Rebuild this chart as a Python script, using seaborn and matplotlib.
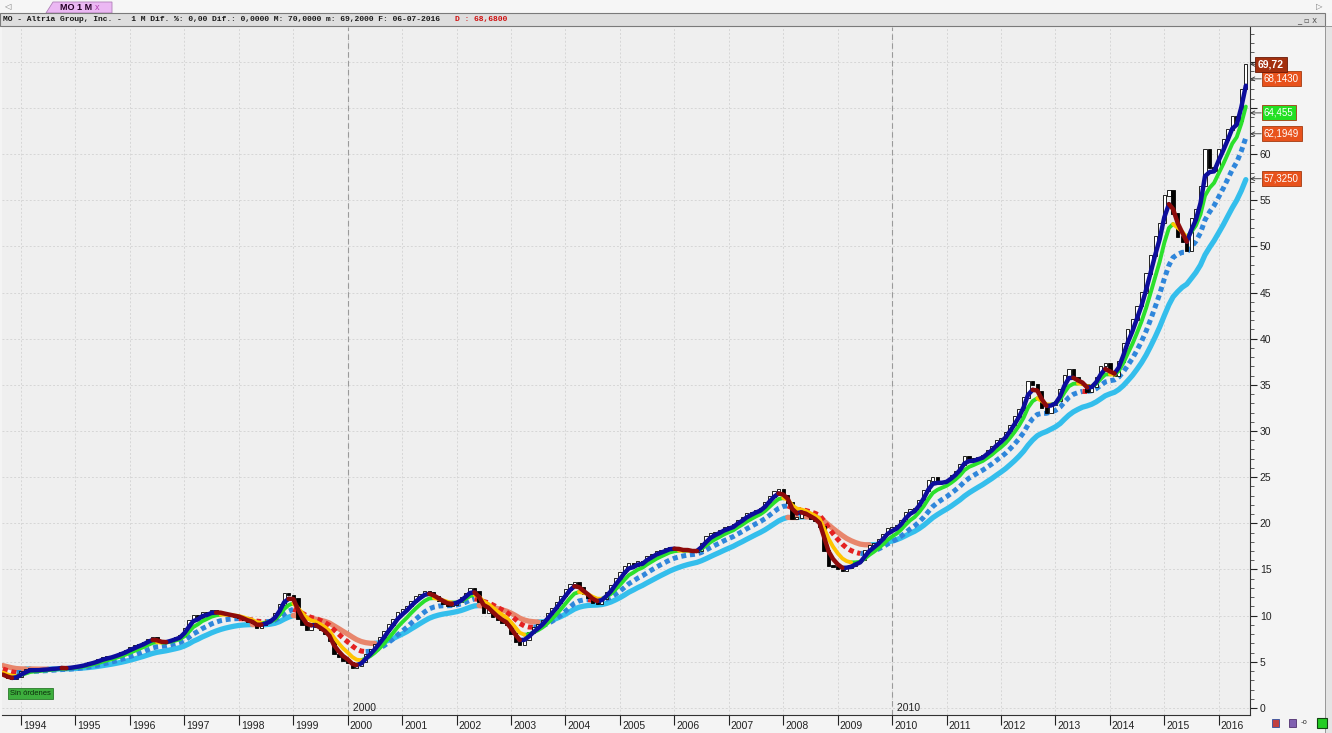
import numpy as np
import pandas as pd
import matplotlib
matplotlib.use("Agg")
import matplotlib.pyplot as plt
import matplotlib.transforms as mtransforms
from matplotlib.patches import Rectangle, Polygon
from matplotlib.ticker import MultipleLocator, FixedFormatter
import seaborn as sns

W, H = 1332, 733

# ==============================================================================
# DATOS: cierres mensuales MO (ajustados)
# 1992-1993 solo sirven para "calentar" las medias moviles
# ==============================================================================
close_1992 = [5.4, 5.5, 5.3, 5.2, 5.1, 5.0, 5.2, 5.3, 5.1, 5.2, 5.4, 5.5]
close_1993 = [5.4, 5.3, 5.0, 3.8, 3.7, 3.6, 3.5, 3.6, 3.6, 3.2, 3.1, 3.4]
close_1994 = [3.9, 4.1, 4.3, 4.1, 4.1, 4.2, 4.2, 4.3, 4.3, 4.4, 4.3, 4.4]
close_1995 = [4.5, 4.6, 4.7, 4.9, 5.0, 5.2, 5.4, 5.5, 5.6, 5.8, 6.0, 6.2]
close_1996 = [6.5, 6.7, 6.9, 7.1, 7.4, 7.6, 7.3, 7.0, 7.1, 7.4, 7.6, 7.8]
close_1997 = [8.6, 9.5, 10.0, 9.8, 10.3, 10.2, 10.5, 10.4, 10.3, 10.1, 10.0, 9.9]
close_1998 = [9.8, 9.5, 9.3, 9.2, 8.7, 9.0, 9.3, 9.6, 10.2, 11.2, 12.4, 12.2]
close_1999 = [11.8, 9.6, 9.0, 8.4, 8.8, 9.0, 8.4, 8.0, 7.3, 5.8, 5.5, 5.1]
close_2000 = [4.9, 4.3, 4.5, 5.0, 5.8, 6.3, 6.9, 7.6, 8.3, 9.0, 9.6, 10.3]
close_2001 = [10.6, 11.0, 11.5, 12.0, 12.3, 12.6, 12.5, 12.0, 11.6, 11.3, 11.1, 11.2]
close_2002 = [11.5, 11.9, 12.4, 12.9, 12.6, 11.5, 10.3, 10.6, 9.9, 9.5, 9.2, 9.0]
close_2003 = [8.0, 7.2, 6.8, 7.4, 8.1, 8.7, 9.0, 9.5, 10.2, 10.8, 11.4, 12.1]
close_2004 = [12.8, 13.4, 13.6, 13.0, 12.3, 11.9, 11.4, 11.3, 11.8, 12.5, 13.2, 14.0]
close_2005 = [14.6, 15.3, 15.6, 15.4, 15.8, 15.7, 16.4, 16.6, 16.9, 17.0, 17.2, 17.4]
close_2006 = [17.3, 17.2, 17.0, 17.1, 16.9, 17.0, 17.8, 18.5, 18.9, 19.0, 19.2, 19.5]
close_2007 = [19.6, 19.8, 20.3, 20.6, 21.0, 21.2, 21.4, 21.6, 22.2, 22.9, 23.4, 23.6]
close_2008 = [23.0, 22.2, 20.5, 20.6, 21.3, 20.9, 20.5, 20.2, 19.6, 17.0, 15.4, 15.3]
close_2009 = [15.0, 14.8, 15.2, 15.4, 15.8, 16.0, 17.0, 17.6, 17.8, 18.2, 18.8, 19.4]
close_2010 = [19.5, 19.7, 20.3, 21.2, 21.5, 21.6, 22.5, 23.5, 24.6, 24.9, 24.5, 24.4]
close_2011 = [24.6, 25.2, 25.6, 26.3, 27.2, 27.0, 26.8, 27.1, 27.3, 27.9, 28.3, 28.9]
close_2012 = [29.2, 29.8, 30.6, 31.5, 32.3, 33.6, 35.3, 35.0, 34.3, 32.5, 32.0, 32.8]
close_2013 = [33.2, 34.5, 36.0, 36.6, 35.8, 35.2, 35.0, 34.2, 34.8, 35.8, 37.0, 37.3]
close_2014 = [36.2, 36.0, 37.5, 39.5, 41.0, 42.0, 43.5, 45.0, 47.0, 49.0, 51.0, 52.5]
close_2015 = [55.5, 56.0, 53.5, 51.0, 50.5, 49.5, 53.0, 54.0, 56.5, 60.5, 58.5, 58.2]
close_2016 = [60.5, 61.5, 62.6, 64.0, 63.6, 67.0, 69.72]

years = list(range(1994, 2017))
year_labels = [str(y) for y in years]

# eje de precios: rotulos cada 5 (65 y 70 quedan tapados por las etiquetas)
price_ticks = list(range(0, 71, 5))
price_tick_labels = [str(v) if v <= 60 else "" for v in price_ticks]

# etiquetas de precio del eje derecho
box_values = [69.72, 68.143, 64.455, 62.1949, 57.325]
box_texts = ["69,72", "68,1430", "64,455", "62,1949", "57,3250"]

header_text = "MO - Altria Group, Inc. -  1 M Dif. %: 0,00 Dif.: 0,0000 M: 70,0000 m: 69,2000 F: 06-07-2016"
header_red = "D : 68,6800"

# medias moviles exponenciales (span en meses)
ma_spans = [22, 12, 6, 3]

# ==============================================================================
# ESTILOS
# ==============================================================================
ma_up_colors = ["#34BEEC", "#2F86DB", "#2BE02B", "#0D0D9C"]
ma_down_colors = ["#E8866C", "#E42222", "#FFC400", "#8E0B0B"]
ma_widths = [3.8, 3.6, 2.8, 3.2]
ma_dotted = [False, True, False, False]
ma_zorder = [2, 3, 5, 6]
box_colors = ["#A3300F", "#E8521C", "#22E022", "#E8521C", "#E8521C"]
BG = "#efefef"


def slope_segments(ma):
    # parte la serie en tramos segun la pendiente (sube / baja)
    rows = []
    vals = ma.values
    dates = ma.index
    run = 0
    prev_up = None
    for i in range(1, len(vals)):
        up = vals[i] >= vals[i - 1]
        if up != prev_up:
            run += 1
            rows.append((dates[i - 1], vals[i - 1], run, up))
        rows.append((dates[i], vals[i], run, up))
        prev_up = up
    return pd.DataFrame(rows, columns=["date", "value", "run", "up"])


def fx(x):
    return x / W


def fy(y):
    return 1 - y / H


def main():
    closes = (close_1992 + close_1993 + close_1994 + close_1995 + close_1996 + close_1997
              + close_1998 + close_1999 + close_2000 + close_2001 + close_2002 + close_2003
              + close_2004 + close_2005 + close_2006 + close_2007 + close_2008 + close_2009
              + close_2010 + close_2011 + close_2012 + close_2013 + close_2014 + close_2015
              + close_2016)
    months = pd.date_range("1992-01-01", periods=len(closes), freq="MS")
    price = pd.Series(closes, index=months)
    start = pd.Timestamp("1993-09-01")

    fig = plt.figure(figsize=(W / 100, H / 100), dpi=100)
    fig.patch.set_facecolor("#f4f4f4")
    ax = fig.add_axes([fx(2), 1 - 715 / H, 1248 / W, 688 / H])
    ax.set_facecolor(BG)

    # ---- medias moviles coloreadas por pendiente ----
    for k, span in enumerate(ma_spans):
        ma = price.ewm(span=span, adjust=False).mean()
        seg = slope_segments(ma[ma.index >= start])
        kws = dict(lw=ma_widths[k], zorder=ma_zorder[k], solid_capstyle="round")
        if ma_dotted[k]:
            kws = dict(lw=ma_widths[k], zorder=ma_zorder[k], linestyle=(0, (1.0, 0.75)),
                       dash_capstyle="butt")
        for up, color in [(True, ma_up_colors[k]), (False, ma_down_colors[k])]:
            part = seg[seg["up"] == up]
            if len(part):
                sns.lineplot(data=part, x="date", y="value", units="run", estimator=None,
                             sort=False, color=color, legend=False, ax=ax, **kws)

    # ---- velas (apertura = cierre anterior), por debajo de las medias rapidas ----
    vis = price[price.index >= start]
    opens = price.shift(1)[price.index >= start]
    body_lo = np.minimum(opens.values, vis.values)
    body_h = np.abs(vis.values - opens.values) + 0.08
    is_up = vis.values >= opens.values
    ax.bar(vis.index[is_up], body_h[is_up], bottom=body_lo[is_up], width=22,
           color="white", edgecolor="black", linewidth=0.6, zorder=4)
    ax.bar(vis.index[~is_up], body_h[~is_up], bottom=body_lo[~is_up], width=22,
           color="black", edgecolor="black", linewidth=0.6, zorder=4)

    # ---- ejes ----
    ax.set_xlim(pd.Timestamp("1993-08-26"), pd.Timestamp("2016-07-29"))
    ax.set_ylim(-0.76, 73.76)
    ax.set_xlabel("")
    ax.set_ylabel("")
    ax.yaxis.tick_right()
    ax.set_yticks(price_ticks)
    ax.set_yticklabels(price_tick_labels)
    ax.yaxis.set_minor_locator(MultipleLocator(1))
    ax.tick_params(axis="y", which="major", length=5, width=0.8, pad=2,
                   labelsize=7.5, colors="#222222")
    ax.tick_params(axis="y", which="minor", length=3, width=0.6, colors="#444444")
    for lbl in ax.get_yticklabels():
        lbl.set_fontfamily("Liberation Sans")

    year_dates = [pd.Timestamp(f"{y}-01-01") for y in years]
    ax.set_xticks(year_dates)
    ax.set_xticklabels(year_labels)
    ax.tick_params(axis="x", which="major", length=7, width=0.8, pad=-3,
                   labelsize=7.5, colors="#222222")
    off = mtransforms.ScaledTranslation(2 / 100, 0, fig.dpi_scale_trans)
    for lbl in ax.get_xticklabels():
        lbl.set_horizontalalignment("left")
        lbl.set_fontfamily("Liberation Sans")
        lbl.set_transform(lbl.get_transform() + off)

    ax.grid(True, which="major", color="#d6d6d6", lw=0.7, ls=(0, (2, 2)), zorder=0)
    ax.set_axisbelow(True)
    for s in ["top", "left"]:
        ax.spines[s].set_visible(False)
    ax.spines["right"].set_color("#333333")
    ax.spines["bottom"].set_color("#333333")

    # separadores de decada
    btrans = mtransforms.blended_transform_factory(ax.transData, ax.transAxes)
    for d in ["2000-01-01", "2010-01-01"]:
        ax.axvline(pd.Timestamp(d), color="#9a9a9a", lw=0.8, ls=(0, (5, 3)), zorder=1)
        ax.text(pd.Timestamp(d), 0.003, " " + d[:4], transform=btrans + off,
                ha="left", va="bottom", fontsize=7.5, family="Liberation Sans",
                color="#222222", zorder=8)

    # ---- etiquetas de precio a la derecha ----
    ytrans = mtransforms.blended_transform_factory(ax.transAxes, ax.transData)
    for k in reversed(range(len(box_values))):
        dx = 8 if k == 0 else 14
        ax.annotate(box_texts[k], xy=(1.0, box_values[k]), xycoords=ytrans,
                    xytext=(dx, 0), textcoords="offset pixels", ha="left", va="center",
                    fontsize=7.5 if k == 0 else 7, fontweight="bold" if k == 0 else "normal",
                    color="white", family="Liberation Sans", annotation_clip=False, zorder=20,
                    bbox=dict(boxstyle="square,pad=0.25", fc=box_colors[k],
                              ec="#6a1a08" if k == 0 else "#a33a10", lw=0.6),
                    arrowprops=dict(arrowstyle="->", color="#333333", lw=0.6,
                                    shrinkA=0, shrinkB=0))

    # ---- "Sin ordenes" ----
    fig.text(fx(10), fy(693.5), "Sin órdenes", fontsize=5.5, family="Liberation Sans",
             color="#0c2e0c", ha="left", va="center",
             bbox=dict(boxstyle="square,pad=0.3", fc="#3DAE3D", ec="#2a7a2a", lw=0.6))

    # ---- cabecera (pestana + barra de datos) ----
    fig.add_artist(Rectangle((0, fy(13)), 1, 13 / H, transform=fig.transFigure,
                             fc="#f6f6f6", ec="none"))
    fig.add_artist(Polygon([(fx(46), fy(13)), (fx(53), fy(2)), (fx(112), fy(2)), (fx(112), fy(13))],
                           closed=True, transform=fig.transFigure, fc="#EBB8F3", ec="#b080b8", lw=0.6))
    fig.text(fx(60), fy(7.5), "MO 1 M", fontsize=6.5, fontweight="bold", color="#220022",
             family="Liberation Sans", va="center")
    fig.text(fx(95), fy(7.5), "x", fontsize=6.5, color="#b040b0", family="Liberation Sans",
             va="center")
    fig.text(fx(4), fy(6.5), "◁", fontsize=6, color="#777777", va="center")
    fig.text(fx(1316), fy(6.5), "▷", fontsize=6, color="#777777", va="center")

    fig.add_artist(Rectangle((fx(0), fy(26)), fx(1325), 13 / H, transform=fig.transFigure,
                             fc="#dedede", ec="#7a7a7a", lw=0.8))
    fig.text(fx(3), fy(19.5), header_text, fontsize=5.8, family="Liberation Mono",
             color="#1a1a1a", va="center", fontweight="bold")
    fig.text(fx(455), fy(19.5), header_red, fontsize=5.8, family="Liberation Mono",
             color="#d01010", va="center", fontweight="bold")
    fig.text(fx(1297), fy(19.5), "_ ▫ x", fontsize=6, color="#555555", va="center",
             family="DejaVu Sans")

    # borde derecho
    fig.add_artist(Rectangle((fx(1325), 0), fx(7), fy(26), transform=fig.transFigure,
                             fc="#e4e4e4", ec="#8a8a8a", lw=0.6))

    # iconos inferiores derechos
    fig.add_artist(Rectangle((fx(1272), fy(727)), fx(7), 8 / H, transform=fig.transFigure,
                             fc="#c04040", ec="#3050a0", lw=0.6))
    fig.add_artist(Rectangle((fx(1289), fy(727)), fx(7), 8 / H, transform=fig.transFigure,
                             fc="#8060b0", ec="#503070", lw=0.6))
    fig.text(fx(1301), fy(722.5), "-o", fontsize=5, color="#333333", va="center")
    fig.add_artist(Rectangle((fx(1317), fy(728)), fx(10), 10 / H, transform=fig.transFigure,
                             fc="#22cc22", ec="#114411", lw=0.8))

    fig.savefig("out.png", dpi=100, facecolor=fig.get_facecolor())
    plt.close(fig)


if __name__ == "__main__":
    main()
